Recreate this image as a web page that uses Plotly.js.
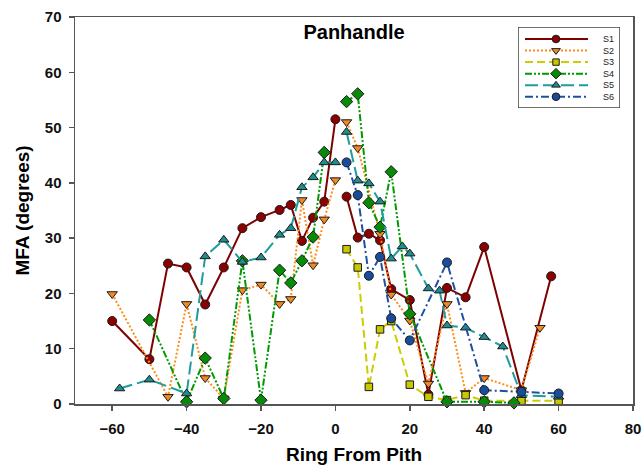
<!DOCTYPE html>
<html><head><meta charset="utf-8">
<script src="https://cdn.plot.ly/plotly-3.0.1.min.js"></script>
<style>html,body{margin:0;padding:0;background:#fff}</style>
</head><body><div id="chart" style="width:644px;height:465px"></div>
<script>
// ---------------- data ----------------
const seriesNames = ['S1', 'S2', 'S3', 'S4', 'S5', 'S6'];
// null separates the two radii on either side of the pith
const s1X = [-60, -50, -45, -40, -35, -30, -25, -20, -15, -12, -9, -6, -3, 0, null, 3, 6, 9, 12, 15, 20, 25, 30, 35, 40, 50, 58];
const s1Y = [15.0, 8.1, 25.4, 24.7, 18.0, 24.7, 31.8, 33.8, 35.1, 36.0, 29.5, 33.7, 36.6, 51.5, null, 37.5, 30.1, 30.8, 29.6, 20.8, 18.8, 1.7, 21.0, 19.3, 28.4, 2.5, 23.1];
const s2X = [-60, -45, -40, -35, -30, -25, -20, -15, -12, -9, -6, -3, 0, null, 3, 6, 12, 15, 20, 25, 30, 35, 40, 50, 55];
const s2Y = [19.9, 1.3, 18.1, 4.7, 1.0, 20.6, 21.6, 18.1, 19.0, 36.9, 25.1, 33.4, 40.5, null, 51.0, 46.3, 30.8, 19.8, 15.1, 3.7, 18.1, 2.0, 4.7, 2.5, 13.8];
const s3X = [3, 6, 9, 12, 15, 20, 25, 30, 35, 40, 50, 60];
const s3Y = [28.0, 24.7, 3.1, 13.5, 15.0, 3.5, 1.3, 0.7, 1.6, 0.6, 0.6, 0.6];
const s4X = [-50, -40, -35, -30, -25, -20, -15, -12, -9, -6, -3, null, 3, 6, 9, 12, 15, 20, 30, 40, 48];
const s4Y = [15.2, 0.4, 8.3, 1.0, 25.9, 0.7, 24.2, 21.9, 25.9, 30.2, 45.5, null, 54.7, 56.1, 36.4, 32.0, 42.0, 16.3, 0.4, 0.4, 0.2];
const s5X = [-58, -50, -40, -35, -30, -25, -20, -15, -12, -9, -6, -3, 0, null, 3, 6, 9, 12, 15, 18, 20, 25, 28, 30, 35, 40, 45, 50, 60];
const s5Y = [2.8, 4.4, 1.9, 26.7, 29.7, 25.7, 26.5, 30.6, 31.8, 39.2, 41.0, 43.7, 43.7, null, 49.2, 40.4, 39.9, 36.6, 26.3, 28.5, 27.2, 20.9, 20.5, 14.2, 13.8, 12.1, 10.4, 1.6, 1.3];
const s6X = [3, 6, 9, 12, 15, 20, 30, 40, 50, 60];
const s6Y = [43.7, 37.8, 23.2, 26.6, 15.5, 11.5, 25.6, 2.5, 2.2, 1.9];
const xTicks = [-60, -40, -20, 0, 20, 40, 60, 80];
const yTicks = [0, 10, 20, 30, 40, 50, 60, 70];

// ---------------- styles ----------------
const styles = [
  {line: '#7f0000', dash: 'solid',                     fill: '#8b0000', symbol: 'circle',        size: 9},
  {line: '#ff8c1a', dash: '2px,2px',                   fill: '#f08a24', symbol: 'triangle-down', size: 9},
  {line: '#cccc00', dash: '8px,4px',                   fill: '#c8c800', symbol: 'square',        size: 7.5},
  {line: '#009a00', dash: '7px,2px,2px,2px,2px,2px',   fill: '#078a07', symbol: 'diamond',       size: 9.5},
  {line: '#1f9c9c', dash: '13px,5px',                  fill: '#208c8c', symbol: 'triangle-up',   size: 9},
  {line: '#1f50a0', dash: '8px,3px,2px,3px',           fill: '#1a4c9c', symbol: 'circle',        size: 9}
];
const xs = [s1X, s2X, s3X, s4X, s5X, s6X];
const ys = [s1Y, s2Y, s3Y, s4Y, s5Y, s6Y];

const W = 644, H = 465;
const M = {l: 75, r: 11, t: 17, b: 61};
const plotW = W - M.l - M.r, plotH = H - M.t - M.b;

const traces = [];
seriesNames.forEach((name, i) => {
  const s = styles[i];
  traces.push({
    type: 'scatter', mode: 'lines+markers', name: name,
    x: xs[i], y: ys[i], connectgaps: false, cliponaxis: false,
    line: {color: s.line, width: 2, dash: s.dash},
    marker: {symbol: s.symbol, size: s.size, color: s.fill, line: {color: '#1a1a1a', width: 1}},
    showlegend: false, hoverinfo: 'x+y+name'
  });
});

// ---------------- custom legend (drawn on an auxiliary pixel-like axis pair) ----------------
const LB = {left: 518, right: 620, top: 27, bottom: 108};
const legRow0 = 39, legStep = 11.55;
const legLine = [525, 556, 588];
const legTextX = 601;
const annotations = [];
seriesNames.forEach((name, i) => {
  const s = styles[i];
  const r = legRow0 + legStep * i;
  traces.push({
    type: 'scatter', mode: 'lines+markers', xaxis: 'x2', yaxis: 'y2',
    x: legLine, y: [r, r, r], showlegend: false, hoverinfo: 'skip', cliponaxis: false,
    line: {color: s.line, width: 2, dash: s.dash},
    marker: {symbol: s.symbol, size: s.size * 0.85, color: s.fill, opacity: [0, 1, 0], line: {color: '#1a1a1a', width: 1}}
  });
  annotations.push({
    xref: 'x2', yref: 'y2', x: legTextX, y: r, text: name, showarrow: false,
    xanchor: 'left', yanchor: 'middle', font: {family: 'Arial, Liberation Sans, sans-serif', size: 9, color: '#222'}
  });
});

const FAM = 'Arial, Liberation Sans, sans-serif';
const axisFont = {family: FAM, size: 15, color: '#111', weight: 'bold'};
const layout = {
  width: W, height: H,
  margin: {l: M.l, r: M.r, t: M.t, b: M.b, pad: 0},
  paper_bgcolor: '#ffffff', plot_bgcolor: '#ffffff',
  showlegend: false,
  title: {
    text: 'Panhandle', xref: 'paper', x: 0.5, xanchor: 'center',
    yref: 'container', y: 1 - 32 / H, yanchor: 'middle',
    font: {family: FAM, size: 20, color: '#000', weight: 'bold'}
  },
  xaxis: {
    range: [-70, 80], tickvals: xTicks, ticks: 'outside', ticklen: 5, tickwidth: 1.5, tickcolor: '#555',
    showline: true, linecolor: '#555', linewidth: 1.5, mirror: true, showgrid: false, zeroline: false,
    tickfont: axisFont, ticklabelstandoff: 5,
    title: {text: 'Ring From Pith', standoff: 12, font: {family: FAM, size: 19, color: '#000', weight: 'bold'}}
  },
  yaxis: {
    range: [0, 70], tickvals: yTicks, ticks: 'outside', ticklen: 5, tickwidth: 1.5, tickcolor: '#555',
    showline: true, linecolor: '#555', linewidth: 1.5, mirror: true, showgrid: false, zeroline: false,
    tickfont: axisFont, ticklabelstandoff: 4,
    title: {text: 'MFA (degrees)', standoff: 10, font: {family: FAM, size: 19, color: '#000', weight: 'bold'}}
  },
  xaxis2: {
    domain: [(LB.left - M.l) / plotW, (LB.right - M.l) / plotW], range: [LB.left, LB.right],
    visible: false, anchor: 'y2', fixedrange: true
  },
  yaxis2: {
    domain: [1 - (LB.bottom - M.t) / plotH, 1 - (LB.top - M.t) / plotH], range: [LB.bottom, LB.top],
    visible: false, anchor: 'x2', fixedrange: true
  },
  shapes: [{
    type: 'rect', xref: 'x2', yref: 'y2', x0: LB.left, x1: LB.right, y0: LB.top, y1: LB.bottom,
    line: {color: '#444', width: 1.5}, fillcolor: 'rgba(0,0,0,0)', layer: 'above'
  }],
  annotations: annotations
};

Plotly.newPlot('chart', traces, layout, {displayModeBar: false, staticPlot: true});
</script>
</body></html>
